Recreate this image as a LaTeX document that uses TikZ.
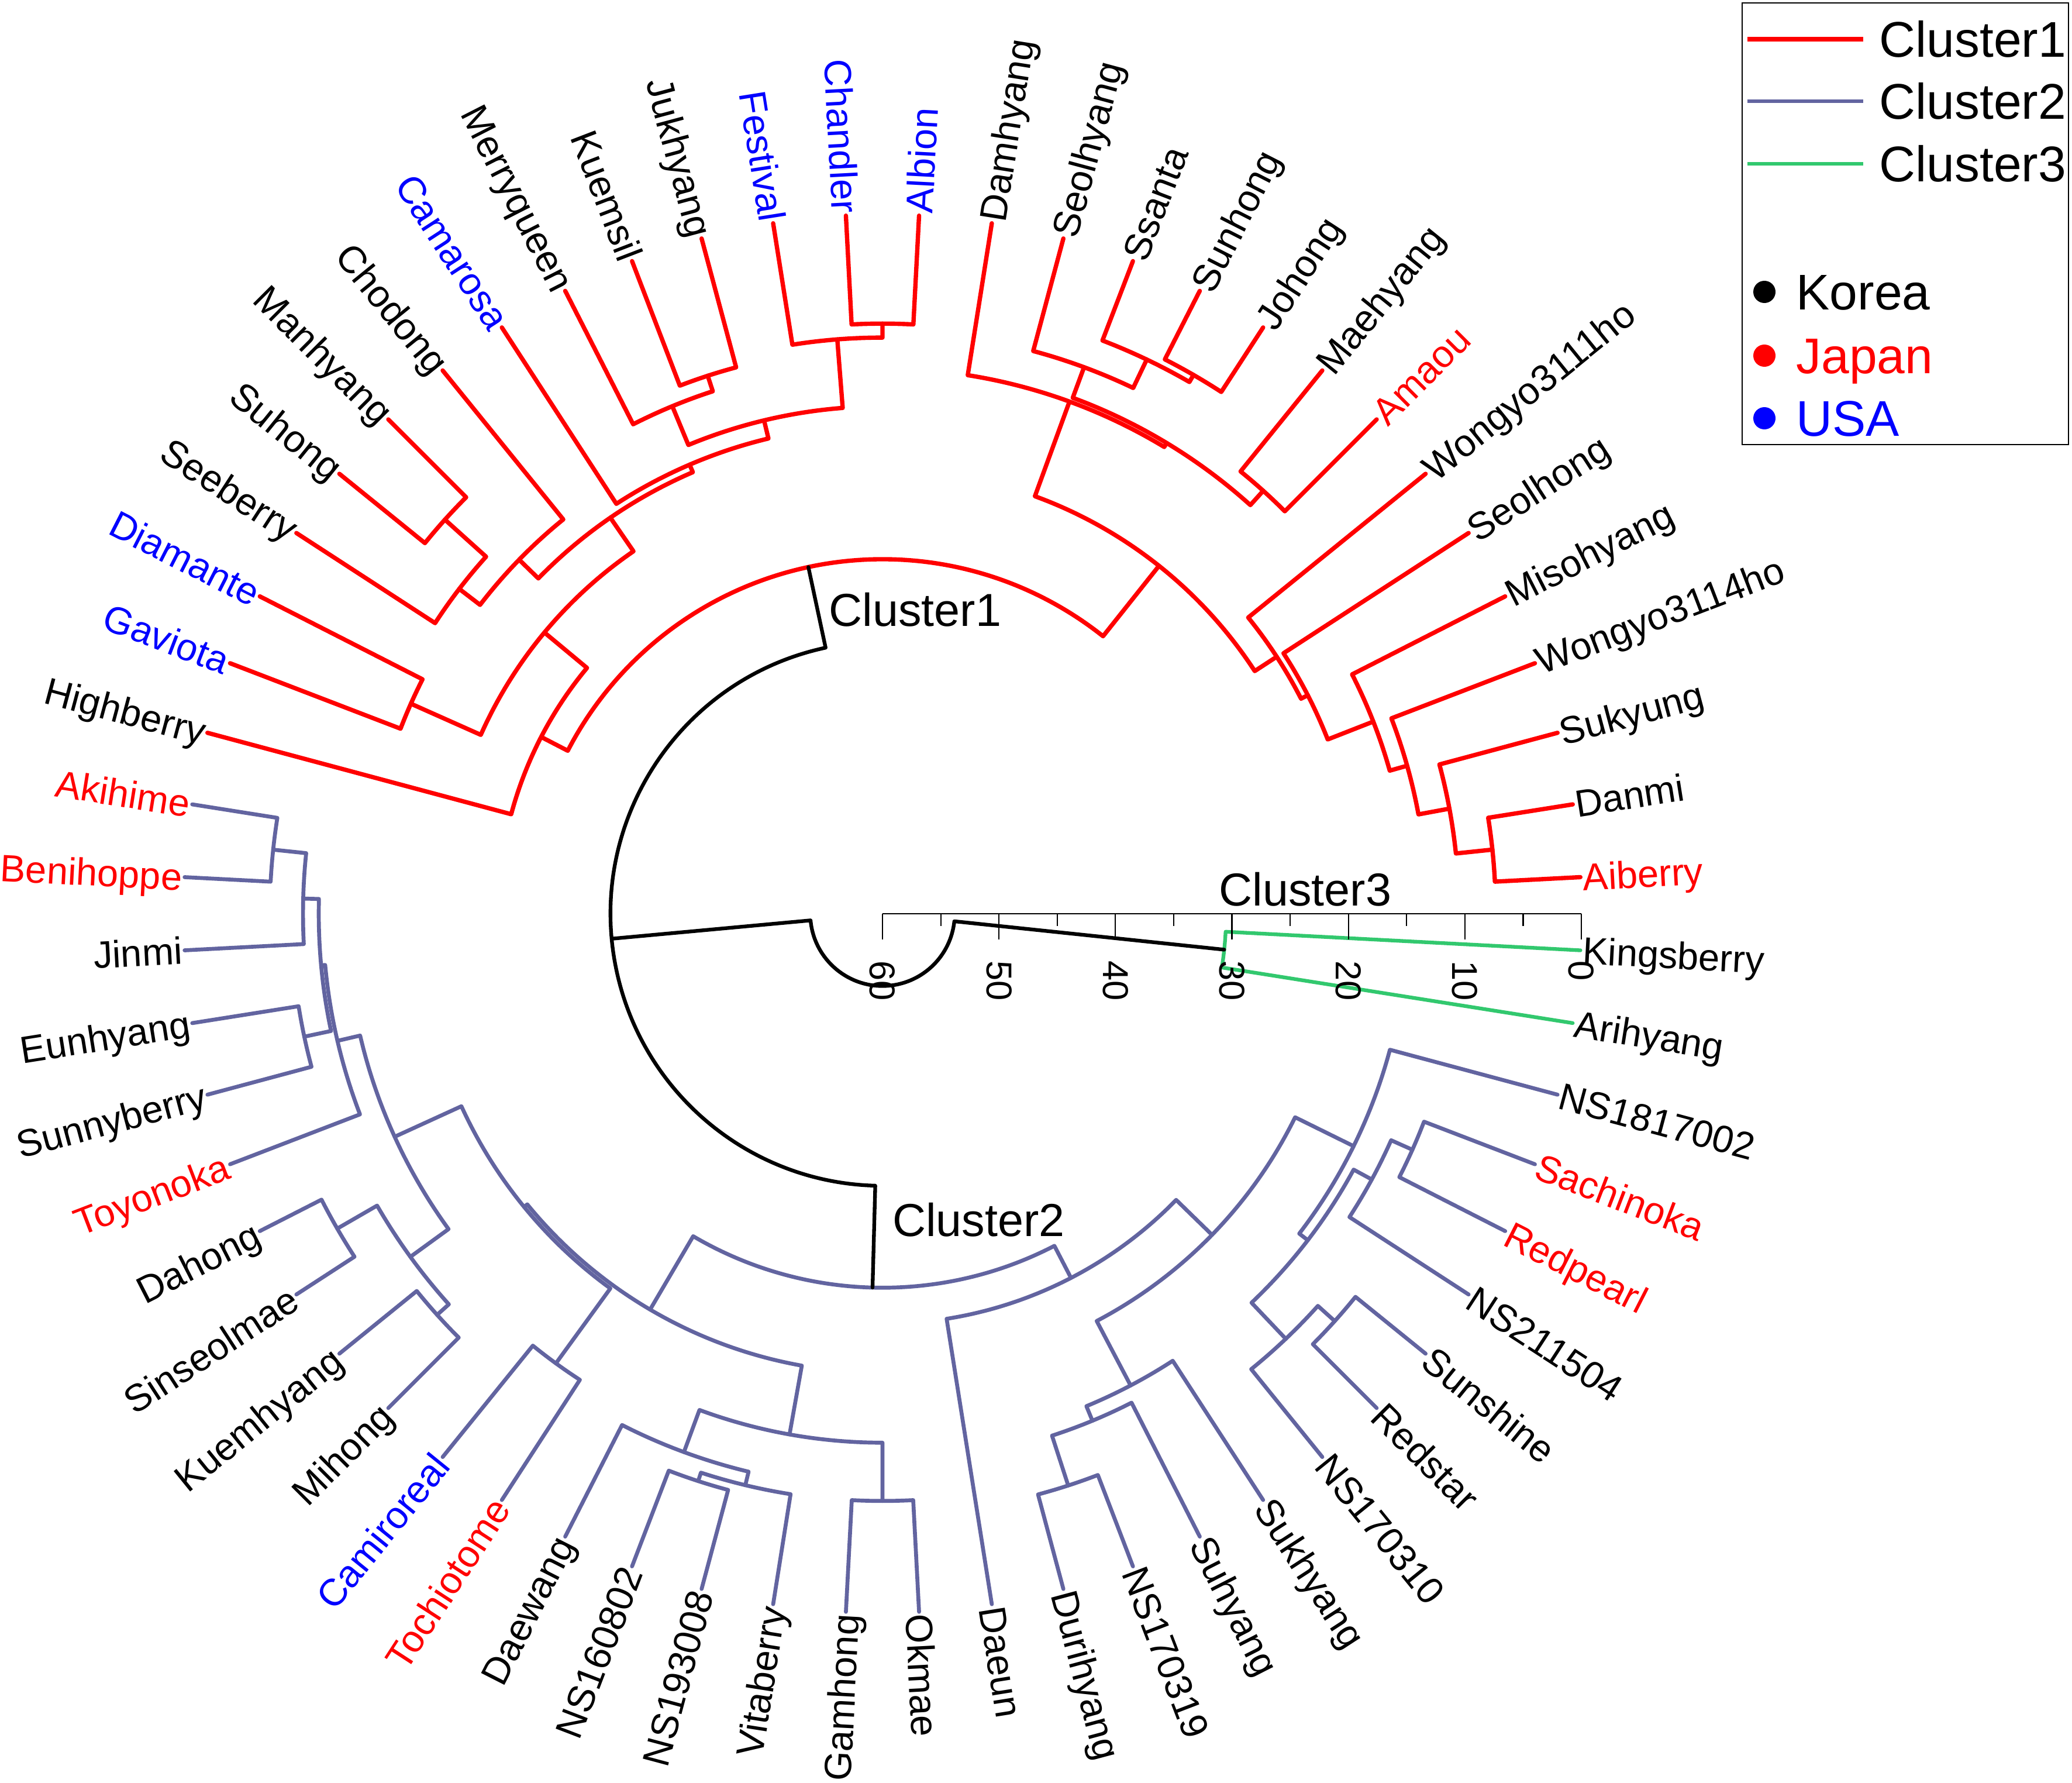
\documentclass[tikz,border=0pt]{standalone}
\usepackage{fontspec}
\setmainfont{Liberation Sans}

\definecolor{clred}{RGB}{255,0,0}
\definecolor{clpurple}{RGB}{98,100,160}
\definecolor{clgreen}{RGB}{50,200,110}
\definecolor{usblue}{RGB}{0,0,255}

% one clade: child angle/height, child angle/height, height of the join
\newcommand{\clade}[6][rootline]{%
  \draw[#1] (#2:{radof(#3)}) -- (#2:{radof(#6)})
    arc[start angle=#2, end angle=#4, radius={radof(#6)}] -- (#4:{radof(#5)});}

\tikzset{
  c1line/.style={draw=clred, line width=2.1pt, line join=round, line cap=round},
  c2line/.style={draw=clpurple, line width=1.9pt, line join=round, line cap=round},
  c3line/.style={draw=clgreen, line width=1.8pt, line join=round, line cap=round},
  rootline/.style={draw=black, line width=1.8pt, line join=round, line cap=round},
  leaf/.style={font=\fontsize{18.5}{20}\selectfont, inner sep=1pt, text height=13.2pt, text depth=0pt},
  clab/.style={font=\fontsize{22.5}{24}\selectfont, inner sep=0pt},
  ticklab/.style={font=\fontsize{17.5}{19}\selectfont, inner sep=0pt, rotate=-90, anchor=west},
  scaleline/.style={line width=0.6pt},
  lgd/.style={font=\fontsize{24.4}{26}\selectfont, inner sep=0pt, text height=17.5pt, text depth=0pt, anchor=west}
}

\begin{document}
\begin{tikzpicture}[declare function={radof(\h)=11.95*(1-\h/60);}]
  \useasboundingbox (-15.09,-14.85) rectangle (20.34,15.62);

  % Cluster1
  \clade[c1line]{9}{0}{3}{0}{7.35}
  \clade[c1line]{15}{0}{6}{7.35}{10.5}
  \clade[c1line]{21}{0}{10.5}{10.5}{13.2}
  \clade[c1line]{27}{0}{15.75}{13.2}{14.75}
  \clade[c1line]{33}{0}{21.375}{14.75}{18.95}
  \clade[c1line]{39}{0}{27.1875}{18.95}{19.6}
  \clade[c1line]{63}{0}{57}{0}{6.6}
  \clade[c1line]{69}{0}{60}{6.6}{7.3}
  \clade[c1line]{75}{0}{64.5}{7.3}{10.0}
  \clade[c1line]{51}{0}{45}{0}{11.15}
  \clade[c1line]{69.75}{10.0}{48}{11.15}{12.8}
  \clade[c1line]{81}{0}{58.875}{12.8}{13.2}
  \clade[c1line]{69.9375}{13.2}{33.09375}{19.6}{21.85}
  \clade[c1line]{87}{0}{93}{0}{9.35}
  \clade[c1line]{99}{0}{90}{9.35}{10.55}
  \clade[c1line]{105}{0}{111}{0}{11.45}
  \clade[c1line]{117}{0}{108}{11.45}{12.85}
  \clade[c1line]{94.5}{10.55}{112.5}{12.85}{16.45}
  \clade[c1line]{103.5}{16.45}{123}{0}{18.05}
  \clade[c1line]{135}{0}{141}{0}{9.45}
  \clade[c1line]{138}{9.45}{147}{0}{14.2}
  \clade[c1line]{129}{0}{142.5}{14.2}{16.45}
  \clade[c1line]{113.25}{18.05}{135.75}{16.45}{18.75}
  \clade[c1line]{153}{0}{159}{0}{15.68}
  \clade[c1line]{124.5}{18.75}{156}{15.68}{22.25}
  \clade[c1line]{140.25}{22.25}{165}{0}{27.0}
  \clade[c1line]{152.625}{27.0}{51.515625}{21.85}{29.57}

  % Cluster2
  \clade[c2line]{171}{0}{177}{0}{7.4}
  \clade[c2line]{174}{7.4}{183}{0}{10.25}
  \clade[c2line]{189}{0}{195}{0}{9.25}
  \clade[c2line]{178.5}{10.25}{192}{9.25}{11.6}
  \clade[c2line]{185.25}{11.6}{201}{0}{11.95}
  \clade[c2line]{207}{0}{213}{0}{5.95}
  \clade[c2line]{219}{0}{225}{0}{8.55}
  \clade[c2line]{210}{5.95}{222}{8.55}{9.9}
  \clade[c2line]{193.125}{11.95}{216}{9.9}{13.95}
  \clade[c2line]{231}{0}{237}{0}{12.3}
  \clade[c2line]{204.5625}{13.95}{234}{12.3}{20.25}
  \clade[c2line]{249}{0}{255}{0}{8.8}
  \clade[c2line]{252}{8.8}{261}{0}{9.56}
  \clade[c2line]{243}{0}{256.5}{9.56}{10.75}
  \clade[c2line]{267}{0}{273}{0}{9.6}
  \clade[c2line]{249.75}{10.75}{270}{9.6}{14.6}
  \clade[c2line]{219.28125}{20.25}{259.875}{14.6}{20.6}
  \clade[c2line]{285}{0}{291}{0}{8.4}
  \clade[c2line]{288}{8.4}{297}{0}{12.9}
  \clade[c2line]{292.5}{12.9}{303}{0}{14.25}
  \clade[c2line]{315}{0}{321}{0}{7.75}
  \clade[c2line]{309}{0}{318}{7.75}{9.7}
  \clade[c2line]{333}{0}{339}{0}{10.2}
  \clade[c2line]{327}{0}{336}{10.2}{12.2}
  \clade[c2line]{313.5}{9.7}{331.5}{12.2}{13.97}
  \clade[c2line]{322.5}{13.97}{345}{0}{14.9}
  \clade[c2line]{297.75}{14.25}{333.75}{14.9}{20.5}
  \clade[c2line]{279}{0}{315.75}{20.5}{24.8}
  \clade[c2line]{239.578125}{20.6}{297.375}{24.8}{27.9}

  % Cluster3 and root
  \clade[c3line]{-3}{0}{-9}{0}{30.5}
  \clade{102.0703}{29.57}{268.4766}{27.9}{36.65}
  \clade{185.2734}{36.65}{354}{30.5}{53.8}

  % labels
  \foreach \a/\n/\c in {-3/Kingsberry/black, 3/Aiberry/red, 9/Danmi/black,
      15/Sukyung/black, 21/Wongyo3114ho/black, 27/Misohyang/black,
      33/Seolhong/black, 39/Wongyo3111ho/black, 45/Amaou/red,
      51/Maehyang/black, 57/Johong/black, 63/Sunhong/black, 69/Ssanta/black,
      75/Seolhyang/black, 81/Damhyang/black, 87/Albion/usblue,
      273/Okmae/black, 279/Daeun/black, 285/Durihyang/black,
      291/NS170319/black, 297/Suhyang/black, 303/Sukhyang/black,
      309/NS170310/black, 315/Redstar/black, 321/Sunshine/black,
      327/NS211504/black, 333/Redpearl/red, 339/Sachinoka/red,
      345/NS1817002/black, 351/Arihyang/black}
    \node[leaf, text=\c, anchor=west, rotate=\a] (\n) at (\a:{radof(0)}) {\n};
  \foreach \a/\n/\c in {93/Chandler/usblue, 99/Festival/usblue,
      105/Jukhyang/black, 111/Kuemsil/black, 117/Merryqueen/black,
      123/Camarosa/usblue, 129/Chodong/black, 135/Manhyang/black,
      141/Suhong/black, 147/Seeberry/black, 153/Diamante/usblue,
      159/Gaviota/usblue, 165/Highberry/black, 171/Akihime/red,
      177/Benihoppe/red, 183/Jinmi/black, 189/Eunhyang/black,
      195/Sunnyberry/black, 201/Toyonoka/red, 207/Dahong/black,
      213/Sinseolmae/black, 219/Kuemhyang/black, 225/Mihong/black,
      231/Camiroreal/usblue, 237/Tochiotome/red, 243/Daewang/black,
      249/NS160802/black, 255/NS193008/black, 261/Vitaberry/black,
      267/Gamhong/black}
    \node[leaf, text=\c, anchor=east, rotate=\a-180] (\n) at (\a:{radof(0)}) {\n};

  \node[clab, anchor=base west] (lab1) at (-0.92,4.92) {Cluster1};
  \node[clab, anchor=base west] (lab2) at (0.165,-5.515) {Cluster2};
  \node[clab, anchor=base west] (lab3) at (5.75,0.14) {Cluster3};

  % scale
  \draw[scaleline] (0,0) -- ({radof(0)},0);
  \foreach \v in {0,10,...,60}{
    \draw[scaleline] ({radof(\v)},0) -- ++(0,-0.435);
    \node[ticklab] at ({radof(\v)},-0.80) {\v};
  }
  \foreach \v in {5,15,...,55}
    \draw[scaleline] ({radof(\v)},0) -- ++(0,-0.21);

  % legend
  \draw[line width=0.8pt] (14.70,8.02) rectangle (20.28,15.57);
  \draw[c1line, line cap=butt] (14.79,14.95) -- (16.77,14.95);
  \draw[c2line, line cap=butt] (14.79,13.89) -- (16.77,13.89);
  \draw[c3line, line cap=butt] (14.79,12.82) -- (16.77,12.82);
  \node[lgd] (lg1) at (17.04,14.95) {Cluster1};
  \node[lgd] (lg2) at (17.04,13.89) {Cluster2};
  \node[lgd] (lg3) at (17.04,12.82) {Cluster3};
  \fill[black] (15.08,10.63) circle (0.19);
  \fill[red] (15.08,9.54) circle (0.19);
  \fill[usblue] (15.08,8.47) circle (0.19);
  \node[lgd] (lgk) at (15.62,10.63) {Korea};
  \node[lgd, text=red] (lgj) at (15.62,9.54) {Japan};
  \node[lgd, text=usblue] (lgu) at (15.62,8.47) {USA};
\end{tikzpicture}
\end{document}
